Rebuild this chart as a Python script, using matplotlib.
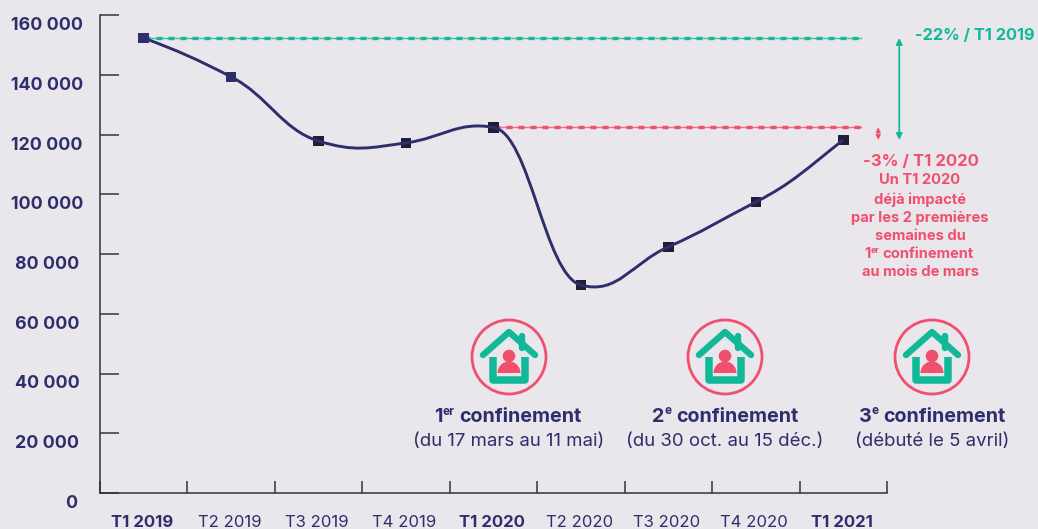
import numpy as np
import matplotlib
matplotlib.use("Agg")
import matplotlib.pyplot as plt
from matplotlib.patches import Circle, PathPatch, Wedge
from matplotlib.path import Path
from matplotlib.transforms import ScaledTranslation

plt.rcParams['font.family'] = ['Inter', 'DejaVu Sans']

quarters = ['T1 2019', 'T2 2019', 'T3 2019', 'T4 2019', 'T1 2020',
            'T2 2020', 'T3 2020', 'T4 2020', 'T1 2021']
bold_quarters = ['T1 2019', 'T1 2020', 'T1 2021']
values = [152300, 139300, 117800, 117200, 122400, 69600, 82400, 97400, 118200]
# curve slope at each point, value per quarter
slopes = [-11000, -15000, -9000, 4000, -5000, -8000, 13000, 15000, 23000]
yticks = [0, 20000, 40000, 60000, 80000, 100000, 120000, 140000, 160000]
house_x = [509, 725, 932]

BG = '#e9e6ec'
NAVY = '#2e2e6c'
DARK = '#1e1e34'
GREEN = '#12b998'
PINK = '#f0506e'
AXIS = '#333338'

W, H = 1038, 529
fig = plt.figure(figsize=(W / 100, H / 100), dpi=100, facecolor=BG)
ax = fig.add_axes([100 / W, (H - 493) / H, 787 / W, 478 / H])
ax.set_facecolor('none')
ax.set_xlim(-0.5, 8.5)
ax.set_ylim(0, 160000)
ax.spines['top'].set_visible(False)
ax.spines['right'].set_visible(False)
ax.spines['left'].set_color(AXIS)
ax.spines['bottom'].set_color(AXIS)
ax.spines['left'].set_linewidth(1.1)
ax.spines['bottom'].set_linewidth(1.1)

# y axis
ax.set_yticks(yticks)
ax.set_yticklabels([f'{v:,}'.replace(',', ' ') for v in yticks])
ax.tick_params(axis='y', direction='in', length=14, width=1.1, color=AXIS, pad=38)
for v, lab in zip(yticks, ax.get_yticklabels()):
    lab.set_fontweight('bold')
    lab.set_fontsize(12.8)
    lab.set_color(NAVY)
    lab.set_ha('center')
    dx = 24 if v == 0 else 0
    shift = ScaledTranslation(dx / 100, -8.5 / 100, fig.dpi_scale_trans)
    lab.set_transform(lab.get_transform() + shift)

# x axis, ticks between the quarters
ax.set_xticks(range(len(quarters)))
ax.set_xticklabels(quarters)
ax.set_xticks(np.arange(-0.5, 9), minor=True)
ax.tick_params(axis='x', which='major', length=0, pad=15.5)
ax.tick_params(axis='x', which='minor', direction='in', length=8.5, width=1.1, color=AXIS)
for q, lab in zip(quarters, ax.get_xticklabels()):
    lab.set_fontsize(12)
    lab.set_color(NAVY)
    lab.set_transform(lab.get_transform() + ScaledTranslation(-1.5 / 100, 0, fig.dpi_scale_trans))
    if q in bold_quarters:
        lab.set_fontweight('bold')

# reference lines
x_end = 8.2
for x0, v, col in [(0, values[0], GREEN), (4, values[4], PINK)]:
    ax.plot([x0, x_end], [v, v], color=col, lw=1.0, alpha=0.8, zorder=2)
    ax.plot([x0, x_end], [v, v], color=col, lw=2.4, dashes=(1.8, 1.8), zorder=2)

# smooth curve, one bezier per quarter
handle = 0.42
verts = [(0, values[0])]
codes = [Path.MOVETO]
for i in range(len(values) - 1):
    verts.append((i + handle, values[i] + slopes[i] * handle))
    verts.append((i + 1 - handle, values[i + 1] - slopes[i + 1] * handle))
    verts.append((i + 1, values[i + 1]))
    codes += [Path.CURVE4] * 3
marker_cols = [NAVY, NAVY] + [DARK] * 7
ax.scatter(range(len(values)), values, marker='s', s=58, c=marker_cols, lw=0, zorder=3)
ax.add_patch(PathPatch(Path(verts, codes), fc='none', ec=NAVY, lw=2.1, zorder=4))

# difference arrows
ax.annotate('', xy=(8.64, values[0]), xytext=(8.64, values[8]),
            arrowprops=dict(arrowstyle='<|-|>', color=GREEN, lw=1.3, mutation_scale=9,
                            shrinkA=0, shrinkB=0), annotation_clip=False)
ax.annotate('', xy=(8.4, values[4]), xytext=(8.4, values[8]),
            arrowprops=dict(arrowstyle='<|-|>', color=PINK, lw=0.9, mutation_scale=7,
                            shrinkA=0, shrinkB=0), annotation_clip=False)

# overlay in pixels for the icons and notes
ov = fig.add_axes([0, 0, 1, 1])
ov.set_xlim(0, W)
ov.set_ylim(H, 0)
ov.axis('off')
ov.patch.set_alpha(0)


def house(cx, cy):
    ov.add_patch(Circle((cx, cy), 37, fc='none', ec=PINK, lw=2.0))
    ln = dict(color=GREEN, solid_capstyle='round', solid_joinstyle='round')
    ov.plot([cx - 26, cx, cx + 26], [cy - 2, cy - 25, cy - 2], lw=4.6, **ln)
    ov.plot([cx + 13, cx + 13], [cy - 21, cy - 9], lw=4.6, **ln)
    ov.plot([cx - 16, cx - 16, cx + 16, cx + 16], [cy, cy + 23, cy + 23, cy],
            lw=5.4, solid_joinstyle='round', solid_capstyle='butt', color=GREEN)
    ov.add_patch(Circle((cx, cy - 1), 6.3, fc=PINK, ec='none'))
    ov.add_patch(Wedge((cx, cy + 16), 11.5, 180, 360, fc=PINK, ec='none'))


def sup_text(cx, cy, a, b, c, size, color, weight='bold'):
    # text with a small raised part, centred as one on cx
    r = fig.canvas.get_renderer()
    parts = [ov.text(0, cy, a, fontsize=size, color=color, fontweight=weight, va='center'),
             ov.text(0, cy - size * 0.38, b, fontsize=size * 0.6, color=color, fontweight=weight, va='center'),
             ov.text(0, cy, c, fontsize=size, color=color, fontweight=weight, va='center')]
    widths = [p.get_window_extent(r).width for p in parts]
    x = cx - (sum(widths) + size * 0.3) / 2
    for p, w in zip(parts, widths):
        p.set_x(x)
        x += w
        if p is parts[1]:
            x += size * 0.3


for x in house_x:
    house(x, 357)

sup_text(508, 417.5, '1', 'er', 'confinement', 14.2, NAVY)
sup_text(725, 416.5, '2', 'e', 'confinement', 14.2, NAVY)
sup_text(932, 416.5, '3', 'e', 'confinement', 14.2, NAVY)
ov.text(509, 442, '(du 17 mars au 11 mai)', fontsize=13.4, color=NAVY, ha='center', va='center')
ov.text(725, 441, '(du 30 oct. au 15 déc.)', fontsize=13.4, color=NAVY, ha='center', va='center')
ov.text(932, 441, '(débuté le 5 avril)', fontsize=13.4, color=NAVY, ha='center', va='center')

ov.text(975, 36, '-22% / T1 2019', fontsize=11.8, color=GREEN, fontweight='bold', ha='center', va='center')
ov.text(921, 162, '-3% / T1 2020', fontsize=12, color=PINK, fontweight='bold', ha='center', va='center')
ov.text(920, 180.5, 'Un T1 2020', fontsize=10.6, color=PINK, fontweight='bold', ha='center', va='center')
ov.text(920, 199.5, 'déjà impacté', fontsize=10.6, color=PINK, fontweight='bold', ha='center', va='center')
ov.text(920, 217.5, 'par les 2 premières', fontsize=10.6, color=PINK, fontweight='bold', ha='center', va='center')
ov.text(920, 236.5, 'semaines du', fontsize=10.6, color=PINK, fontweight='bold', ha='center', va='center')
sup_text(919, 254.5, '1', 'er', 'confinement', 10.6, PINK)
ov.text(920, 272.5, 'au mois de mars', fontsize=10.6, color=PINK, fontweight='bold', ha='center', va='center')

fig.savefig('out.png', dpi=100, facecolor=BG)
